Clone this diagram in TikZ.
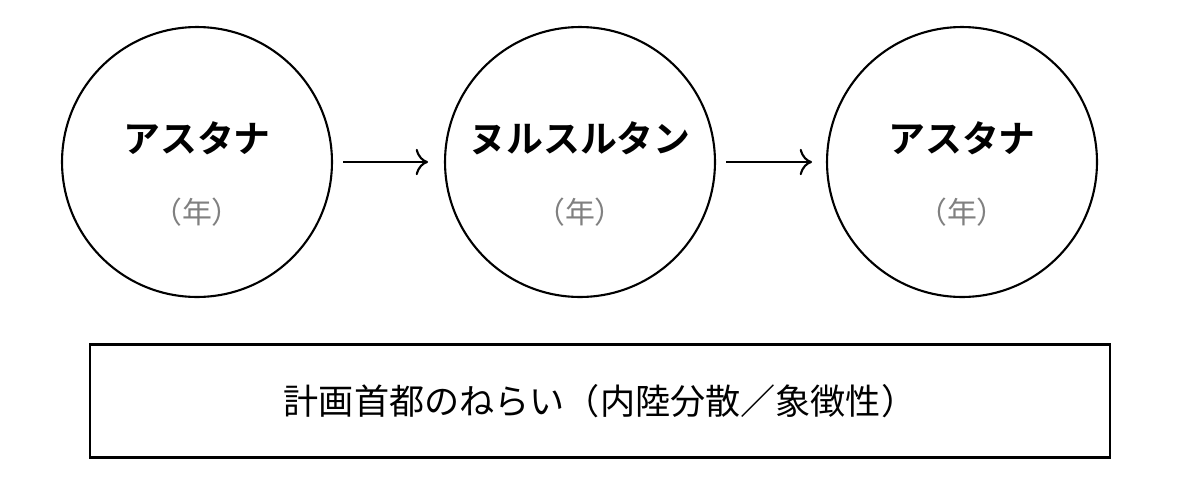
\documentclass[tikz,border=0pt]{standalone}
\usepackage{fontspec}
\usetikzlibrary{arrows.meta}
\newfontfamily\cjk{Noto Sans CJK JP}
\newfontfamily\cjkb{Noto Sans CJK JP Bold}
\begin{document}
\begin{tikzpicture}[x=0.02cm,y=-0.02cm,
    city/.style={draw, circle, line width=1.2pt, minimum size=5.4cm},
    cityname/.style={font=\cjkb\fontsize{21}{26}\selectfont},
    cityyear/.style={font=\cjk\fontsize{17}{20}\selectfont, text=gray},
    move/.style={-{To[length=7pt,width=15pt]}, line width=1.2pt}]
  \useasboundingbox (0,0) rectangle (1200,484);
  \node[city] at (197,162) (a) {};
  \node[city] at (580,162) (b) {};
  \node[city] at (962,162) (c) {};
  \node[cityname] at (197,138) (aname) {アスタナ};
  \node[cityname] at (580,138) (bname) {ヌルスルタン};
  \node[cityname] at (962,138) (cname) {アスタナ};
  \node[cityyear] at (197,212) (ayear) {（年）};
  \node[cityyear] at (580,212) (byear) {（年）};
  \node[cityyear] at (962,212) (cyear) {（年）};
  \coordinate (ab1) at (343,162);
  \coordinate (ab2) at (428,162);
  \coordinate (bc1) at (726,162);
  \coordinate (bc2) at (812,162);

  \draw[move] (ab1)--(ab2);
  \draw[move] (bc1)--(bc2);
  \node[draw, line width=1.2pt, minimum width=20.4cm, minimum height=2.26cm,
    font=\cjk\fontsize{20}{24}\selectfont] at (600,401) (goal)
    {計画首都のねらい（内陸分散／象徴性）};
\end{tikzpicture}
\end{document}
